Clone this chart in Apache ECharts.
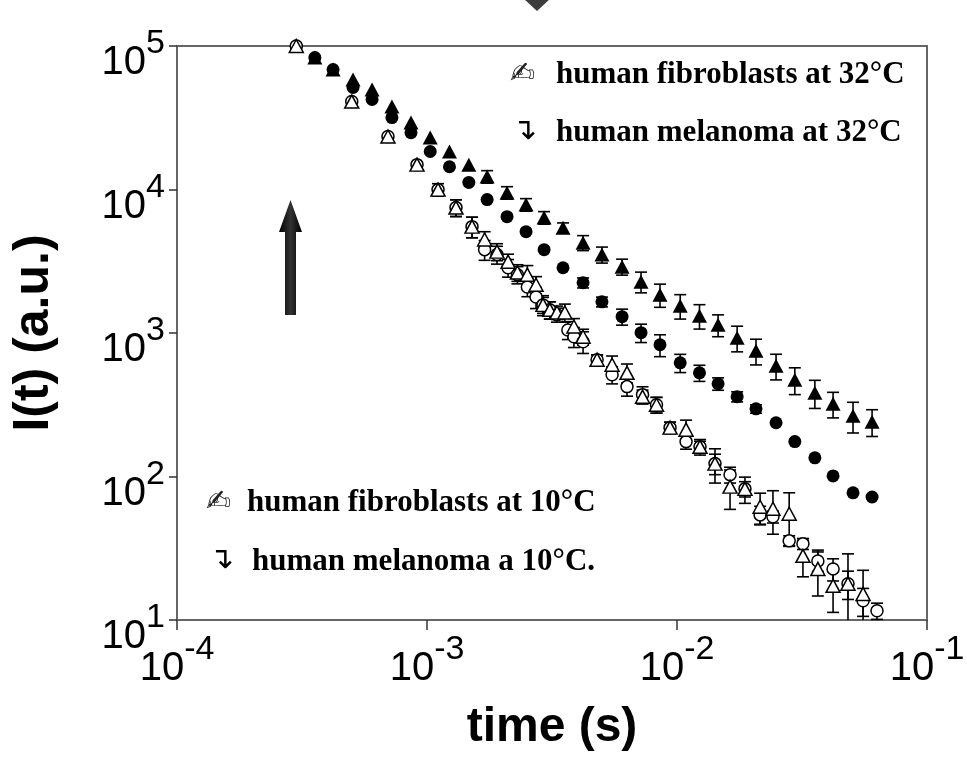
<!DOCTYPE html>
<html>
<head>
<meta charset="utf-8">
<title>I(t) vs time</title>
<script src="https://cdn.jsdelivr.net/npm/echarts@6/dist/echarts.min.js"></script>
<style>
  html, body { margin: 0; padding: 0; background: #fff; }
  #chart { width: 967px; height: 766px; }
</style>
</head>
<body>
<div id="chart"></div>
<script>
// 32°C series share the same time points (s)
const time32 = [3.0e-4, 3.56e-4, 4.21e-4, 5.06e-4, 6.03e-4, 7.24e-4, 8.63e-4, 1.03e-3, 1.23e-3, 1.47e-3,
  1.74e-3, 2.09e-3, 2.49e-3, 2.94e-3, 3.50e-3, 4.21e-3, 5.01e-3, 6.03e-3, 7.18e-3, 8.55e-3,
  1.03e-2, 1.23e-2, 1.46e-2, 1.74e-2, 2.07e-2, 2.49e-2, 2.96e-2, 3.56e-2, 4.21e-2, 5.06e-2, 6.03e-2]
const fibro32 = [100000, 83000, 68600, 58400, 49800, 37900, 29300, 23000, 18400, 14900,
  12300, 9510, 7850, 6370, 5420, 4260, 3520, 2900, 2280, 1850,
  1550, 1320, 1140, 927, 752, 591, 472, 383, 321, 265, 241]
const fibro32Err = [0, 0, 0, 0, 0, 0, 0, 0, 0, 0,
  1230, 950, 785, 640, 430, 510, 450, 370, 376, 340,
  300, 255, 198, 188, 153, 120, 100, 85, 65, 64, 51]
const melan32 = [100000, 83000, 68600, 51400, 42400, 31700, 24900, 18400, 14400, 11200,
  8510, 6470, 5080, 3810, 2850, 2240, 1650, 1300, 1005, 828,
  620, 528, 443, 360, 296, 237, 175, 135, 101, 77, 72]
const melan32Err = [0, 0, 0, 0, 0, 0, 0, 0, 0, 0,
  0, 0, 0, 0, 0, 180, 130, 166, 147, 144,
  90, 68, 44, 29, 20, 0, 0, 0, 0, 0, 0]

// 10°C series
const timeFibro10 = [3.0e-4, 5.0e-4, 6.98e-4, 9.12e-4, 1.107e-3, 1.306e-3, 1.514e-3, 1.70e-3, 1.905e-3, 2.11e-3,
  2.30e-3, 2.52e-3, 2.73e-3, 2.91e-3, 3.10e-3, 3.31e-3, 3.56e-3, 3.87e-3, 4.21e-3, 4.79e-3,
  5.50e-3, 6.31e-3, 7.28e-3, 8.28e-3, 9.38e-3, 1.087e-2, 1.236e-2, 1.419e-2, 1.63e-2, 1.87e-2,
  2.15e-2, 2.42e-2, 2.81e-2, 3.19e-2, 3.66e-2, 4.21e-2, 4.83e-2, 5.55e-2]
const fibro10 = [100000, 41000, 23400, 14900, 9980, 7480, 5510, 4480, 3690, 3140,
  2640, 2550, 2170, 1570, 1450, 1390, 1390, 1110, 942, 652,
  601, 528, 360, 316, 219, 212, 161, 123, 85, 82,
  61.5, 59.6, 55, 28.0, 22.7, 17.3, 17.9, 15.2]
const fibro10Err = [0, 0, 0, 0, 1000, 1000, 900, 600, 500, 400,
  350, 400, 300, 200, 200, 150, 200, 150, 120, 50,
  90, 80, 40, 40, 20, 35, 20, 33, 26, 17,
  15, 20, 22, 8, 8, 6, 4, 7]
const timeMelan10 = [3.0e-4, 5.0e-4, 6.98e-4, 9.12e-4, 1.107e-3, 1.306e-3, 1.514e-3, 1.70e-3, 1.905e-3, 2.11e-3,
  2.30e-3, 2.52e-3, 2.73e-3, 2.91e-3, 3.10e-3, 3.31e-3, 3.66e-3, 3.87e-3, 4.21e-3, 4.79e-3,
  5.50e-3, 6.31e-3, 7.28e-3, 8.28e-3, 9.38e-3, 1.087e-2, 1.236e-2, 1.419e-2, 1.63e-2, 1.87e-2,
  2.15e-2, 2.42e-2, 2.81e-2, 3.19e-2, 3.66e-2, 4.21e-2, 4.83e-2, 5.55e-2, 6.31e-2]
const melan10 = [100000, 41000, 23400, 14900, 9980, 7480, 5510, 3810, 3520, 2850,
  2550, 2090, 1780, 1570, 1450, 1340, 1050, 942, 870, 652,
  512, 423, 372, 316, 219, 175, 161, 123, 103, 82,
  54, 52.4, 35.6, 34.0, 25.8, 22.7, 17.9, 13.6, 11.6]
const melan10Err = [0, 0, 0, 0, 0, 1000, 900, 600, 500, 400,
  350, 300, 300, 250, 200, 150, 150, 150, 150, 50,
  70, 60, 50, 40, 20, 20, 15, 20, 13, 10,
  8, 5, 3, 3, 4, 4, 11, 3, 1.5]

const legendTop = ['human fibroblasts at 32°C', 'human melanoma at 32°C']
const legendBottom = ['human fibroblasts at 10°C', 'human melanoma a 10°C.']

const X_MIN = 1e-4
const X_MAX = 1e-1
const Y_MIN = 10
const Y_MAX = 1e5

const pairs = (t, v) => t.map((x, i) => [x, v[i]])
const errData = (t, v, e) => t
  .map((x, i) => [x, v[i] - e[i], v[i] + e[i], e[i]])
  .filter(d => d[3] > 0)

function errorBar(params, api) {
  const t = api.value(0)
  let lo = api.value(1)
  const hi = api.value(2)
  const clipped = lo < Y_MIN
  if (clipped) lo = Y_MIN
  const top = api.coord([t, hi])
  const bot = api.coord([t, lo])
  const cap = 6
  const style = { stroke: '#000', lineWidth: 1.6 }
  const children = [
    { type: 'line', shape: { x1: top[0], y1: top[1], x2: bot[0], y2: bot[1] }, style },
    { type: 'line', shape: { x1: top[0] - cap, y1: top[1], x2: top[0] + cap, y2: top[1] }, style }
  ]
  if (!clipped) {
    children.push({ type: 'line', shape: { x1: bot[0] - cap, y1: bot[1], x2: bot[0] + cap, y2: bot[1] }, style })
  }
  return { type: 'group', children }
}

const powLabel = v => '{b|10}{s|' + Math.round(Math.log10(v)) + '}'
const tickFont = '"Liberation Sans", Arial, sans-serif'
const legendFont = 'bold 31px "Liberation Serif", "Times New Roman", serif'
const powRich = {
  b: { fontSize: 40, fontFamily: tickFont, color: '#000', verticalAlign: 'bottom', lineHeight: 56 },
  s: { fontSize: 34, fontFamily: tickFont, color: '#000', verticalAlign: 'top', lineHeight: 22 }
}

const chart = echarts.init(document.getElementById('chart'))
chart.setOption({
  backgroundColor: '#fff',
  animation: false,
  grid: {
    left: 177,
    right: 40,
    top: 46,
    bottom: 146,
    show: true,
    borderColor: '#666',
    borderWidth: 2,
    outerBoundsMode: 'none'
  },
  xAxis: {
    type: 'log',
    logBase: 10,
    min: X_MIN,
    max: X_MAX,
    name: 'time (s)',
    nameLocation: 'middle',
    nameGap: 84,
    nameTextStyle: {
      color: '#000',
      fontFamily: tickFont,
      fontWeight: 'bold',
      fontSize: 48
    },
    axisLine: { lineStyle: { color: '#666', width: 2 } },
    axisTick: { inside: false, length: 10, lineStyle: { color: '#333', width: 1.5 } },
    minorTick: { show: false },
    splitLine: { show: false },
    axisLabel: { margin: 13, formatter: powLabel, rich: powRich }
  },
  yAxis: {
    type: 'log',
    logBase: 10,
    min: Y_MIN,
    max: Y_MAX,
    name: 'I(t) (a.u.)',
    nameLocation: 'middle',
    nameGap: 118,
    nameTextStyle: {
      color: '#000',
      fontFamily: tickFont,
      fontWeight: 'bold',
      fontSize: 50
    },
    axisLine: { lineStyle: { color: '#666', width: 2 } },
    axisTick: { inside: false, length: 8, lineStyle: { color: '#333', width: 1.5 } },
    minorTick: { show: false },
    splitLine: { show: false },
    axisLabel: { margin: 12, padding: [18, 0, 0, 0], formatter: powLabel, rich: powRich }
  },
  series: [
    { type: 'custom', renderItem: errorBar, data: errData(time32, fibro32, fibro32Err), z: 1 },
    { type: 'custom', renderItem: errorBar, data: errData(time32, melan32, melan32Err), z: 1 },
    { type: 'custom', renderItem: errorBar, data: errData(timeMelan10, melan10, melan10Err), z: 1 },
    { type: 'custom', renderItem: errorBar, data: errData(timeFibro10, fibro10, fibro10Err), z: 1 },
    {
      name: legendTop[0], type: 'scatter', data: pairs(time32, fibro32),
      symbol: 'triangle', symbolSize: [15, 14], itemStyle: { color: '#000', opacity: 1 }, z: 2
    },
    {
      name: legendTop[1], type: 'scatter', data: pairs(time32, melan32),
      symbol: 'circle', symbolSize: 13, itemStyle: { color: '#000', opacity: 1 }, z: 2
    },
    {
      name: legendBottom[1], type: 'scatter', data: pairs(timeMelan10, melan10),
      symbol: 'circle', symbolSize: 12,
      itemStyle: { color: '#fff', borderColor: '#000', borderWidth: 1.5, opacity: 1 }, z: 3
    },
    {
      name: legendBottom[0], type: 'scatter', data: pairs(timeFibro10, fibro10),
      symbol: 'triangle', symbolSize: [14, 13],
      itemStyle: { color: '#fff', borderColor: '#000', borderWidth: 1.5, opacity: 1 }, z: 3
    }
  ],
  graphic: [
    // big arrow on the left
    {
      type: 'polygon',
      shape: { points: [[285, 315], [285, 232], [279, 232], [290.5, 200], [302, 232], [296, 232], [296, 315]] },
      style: {
        fill: new echarts.graphic.LinearGradient(0, 0, 1, 0, [
          { offset: 0, color: '#000' },
          { offset: 0.5, color: '#333' },
          { offset: 1, color: '#000' }
        ])
      }
    },
    // clipped diamond at the top edge
    {
      type: 'polygon',
      shape: { points: [[523, -2], [537, 11], [551, -2]] },
      style: { fill: '#3c3c3c' }
    },
    { type: 'text', x: 510, y: 75, style: { text: '✍', font: '30px "DejaVu Sans"', fill: '#222', verticalAlign: 'middle' } },
    { type: 'text', x: 556, y: 75, style: { text: legendTop[0], font: legendFont, fill: '#000', verticalAlign: 'middle' } },
    { type: 'text', x: 512, y: 131, style: { text: '↴', font: '30px "DejaVu Sans"', fill: '#000', verticalAlign: 'middle' } },
    { type: 'text', x: 556, y: 133, style: { text: legendTop[1], font: legendFont, fill: '#000', verticalAlign: 'middle' } },
    { type: 'text', x: 206, y: 503, style: { text: '✍', font: '30px "DejaVu Sans"', fill: '#222', verticalAlign: 'middle' } },
    { type: 'text', x: 247, y: 503, style: { text: legendBottom[0], font: legendFont, fill: '#000', verticalAlign: 'middle' } },
    { type: 'text', x: 209, y: 560, style: { text: '↴', font: '30px "DejaVu Sans"', fill: '#000', verticalAlign: 'middle' } },
    { type: 'text', x: 252, y: 562, style: { text: legendBottom[1], font: legendFont, fill: '#000', verticalAlign: 'middle' } }
  ]
})
</script>
</body>
</html>
